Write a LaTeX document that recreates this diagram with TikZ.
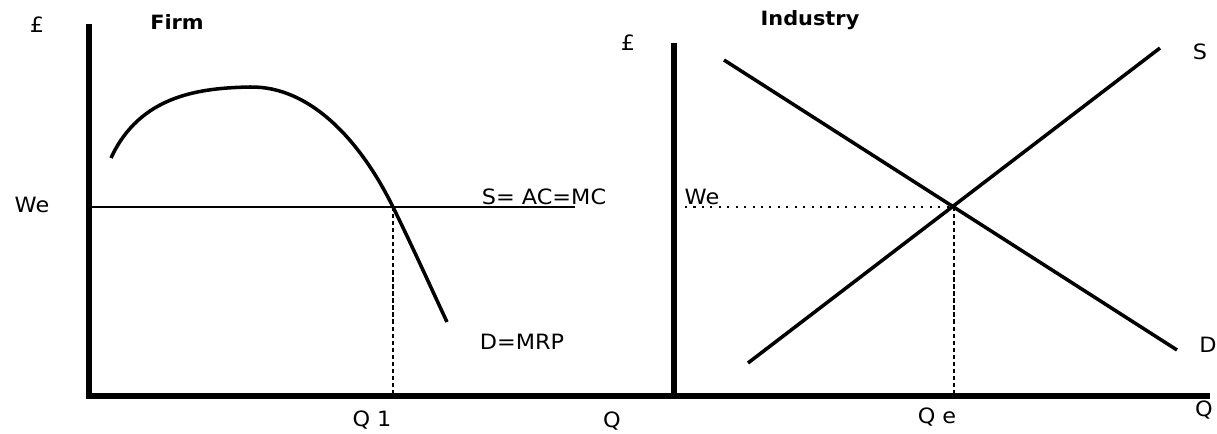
\documentclass[tikz,border=0pt]{standalone}
\usepackage{fontspec}
\setmainfont{DejaVu Sans}[FakeStretch=1.06]
\begin{document}
\begin{tikzpicture}[x=0.025cm,y=-0.025cm,
  lbl/.style={font=\fontsize{15}{17}\selectfont, inner sep=0pt},
  ttl/.style={font=\fontsize{14}{17}\selectfont\bfseries, inner sep=0pt},
  axis/.style={line width=4.8pt},
  curve/.style={line width=2.5pt},
  thin/.style={line width=1.6pt},
  dashline/.style={line width=1.4pt, dash pattern=on 3pt off 2pt},
  dotline/.style={line width=1.8pt, dash pattern=on 1.5pt off 4.5pt}]
\useasboundingbox (0,0) rectangle (1217,434);
% axes
\coordinate (fy1) at (89,24);
\coordinate (fo) at (89,396);
\coordinate (iy1) at (674,43);
\coordinate (io) at (674,396);
\coordinate (xend) at (1210,396);
\draw[axis] (fy1) -- (fo);
\draw[axis] (iy1) -- (io);
\draw[axis] (86,396) -- (xend);
% firm
\coordinate (fw) at (89,207);
\coordinate (fwend) at (575,207);
\coordinate (e1) at (393,207);
\coordinate (q1) at (393,394);
\draw[thin] (fw) -- (fwend);
\draw[curve] (111,158) .. controls (140,95) and (200,88) .. (250,87)
  .. controls (310,86) and (360,140) .. (e1)
  .. controls (415,252) and (432,290) .. (447,322);
\draw[dashline] (e1) -- (q1);
% industry
\coordinate (d1) at (724,60);
\coordinate (d2) at (1177,350);
\coordinate (s1) at (748,363);
\coordinate (s2) at (1160,48);
\coordinate (ee) at (954,207);
\coordinate (iw) at (685,207);
\coordinate (qe) at (954,394);
\draw[curve] (d1) -- (d2);
\draw[curve] (s1) -- (s2);
\draw[dotline] (iw) -- (ee);
\draw[dashline] (ee) -- (qe);
% labels
\node[lbl] (pf) at (37,25) {£};
\node[ttl] (firm) at (177,22) {Firm};
\node[lbl] (wef) at (32,205) {We};
\node[lbl] (sac) at (544,197) {S= AC=MC};
\node[lbl] (dmrp) at (522,342) {D=MRP};
\node[lbl] (q1l) at (372,420) {Q 1};
\node[lbl] (qm) at (612,421) {Q};
\node[ttl] (ind) at (810,20) {Industry};
\node[lbl] (pi) at (628,43) {£};
\node[lbl] (wei) at (702,197) {We};
\node[lbl] (sl) at (1200,52) {S};
\node[lbl] (dl) at (1208,345) {D};
\node[lbl] (qel) at (937,417) {Q e};
\node[lbl] (qr) at (1204,410) {Q};
\end{tikzpicture}
\end{document}
